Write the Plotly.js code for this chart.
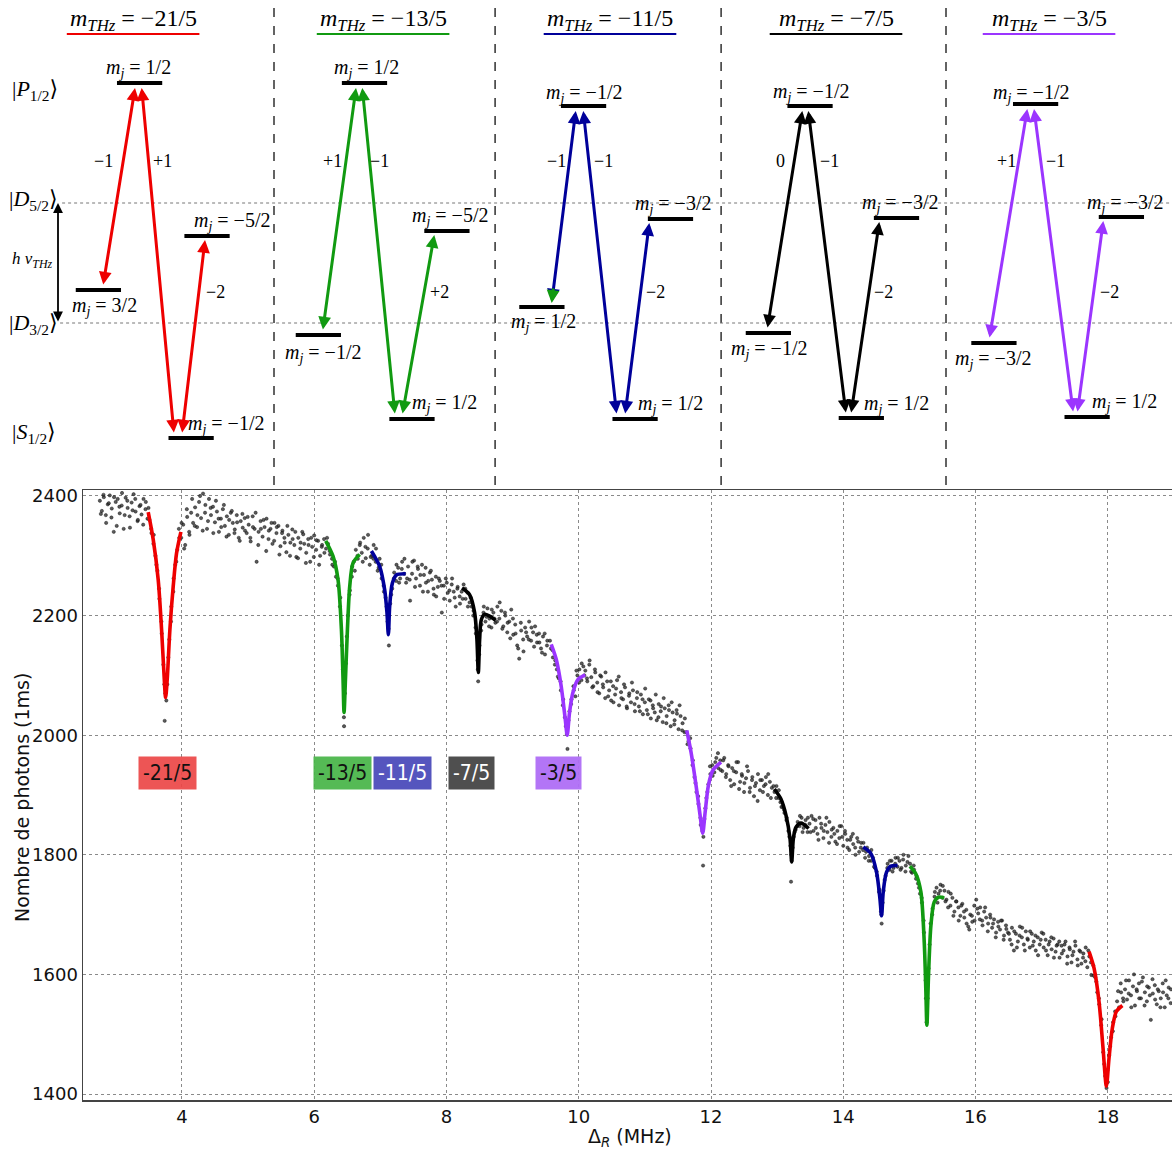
<!DOCTYPE html>
<html>
<head>
<meta charset="utf-8">
<script src="https://cdn.plot.ly/plotly-3.0.1.min.js"></script>
<style>html,body{margin:0;padding:0;background:#fff;}#chart{width:1172px;height:1149px;}</style>
</head>
<body>
<div id="chart"></div>
<script>
// ---------------- DATA: measured scatter, scan 1 (segments) ----------------
const scatXA = [2.76,2.79,2.82,2.85,2.88,2.91,2.94,2.97,3.00,3.03,3.06,3.09,3.12,3.15,3.18,3.21,3.24,3.27,3.30,3.33,3.36,3.39,3.42,3.45,3.48];
const scatYA = [2392,2375,2398,2368,2386,2401,2379,2340,2390,2395,2371,2384,2345,2397,2380,2366,2389,2403,2374,2358,2383,2369,2395,2378,2362];
const scatXR1 = [3.51,3.54,3.57,3.60,3.63,3.66,3.69,3.72,3.75,3.74,3.78,3.81,3.84,3.87,3.90,3.93,3.96];
const scatYR1 = [2360,2338,2320,2300,2275,2228,2190,2118,2070,2024,2085,2160,2215,2240,2285,2310,2330];
const scatXB = [3.99,4.02,4.05,4.08,4.11,4.14,4.17,4.20,4.23,4.26,4.29,4.32,4.35,4.38,4.41,4.44,4.47,4.50,4.53,4.56,4.59,4.62,4.65,4.68,4.71,4.74,4.77,4.80,4.83,4.86,4.89,4.92,4.95,4.98,5.01,5.04,5.07,5.10,5.13,5.16,5.19,5.22,5.25,5.28,5.31,5.34,5.37,5.40,5.43,5.46,5.49,5.52,5.55,5.58,5.61,5.64,5.67,5.70,5.73,5.76,5.79,5.82,5.85,5.88,5.91,5.94,5.97,6.00,6.03,6.06,6.09,6.12,6.15];
const scatYB = [2330,2352,2318,2365,2340,2372,2355,2381,2348,2390,2363,2404,2372,2345,2395,2368,2382,2356,2374,2340,2362,2378,2350,2366,2335,2372,2355,2344,2368,2330,2358,2347,2363,2338,2352,2324,2366,2345,2290,2340,2358,2332,2348,2362,2328,2345,2320,2355,2338,2350,2316,2342,2330,2306,2335,2322,2344,2318,2298,2330,2312,2340,2320,2305,2328,2290,2315,2334,2310,2325,2300,2318,2328];
const scatXG1 = [6.18,6.21,6.24,6.27,6.30,6.33,6.36,6.39,6.42,6.45,6.452,6.48,6.51,6.54,6.57,6.60,6.63,6.66,6.69,6.72,6.75,6.78,6.81,6.84];
const scatYG1 = [2312,2320,2302,2295,2282,2265,2250,2215,2150,2030,2015,2120,2200,2242,2265,2290,2310,2295,2318,2305,2330,2296,2312,2285];
const scatXB1 = [6.87,6.90,6.93,6.96,6.99,7.02,7.05,7.08,7.11,7.13,7.15,7.18,7.21,7.24,7.27,7.30,7.33,7.36,7.39];
const scatYB1 = [2300,2318,2290,2275,2295,2262,2250,2230,2190,2150,2220,2245,2272,2258,2280,2262,2290,2270,2255];
const scatXC = [7.42,7.45,7.48,7.51,7.54,7.57,7.60,7.63,7.66,7.69,7.72,7.75,7.78,7.81,7.84,7.87,7.90,7.93,7.96,7.99,8.02,8.05,8.08,8.11,8.14,8.17,8.20];
const scatYC = [2282,2225,2270,2292,2262,2278,2250,2285,2268,2255,2240,2272,2260,2235,2265,2248,2258,2205,2250,2262,2238,2225,2252,2240,2215,2248,2232];
const scatXK1 = [8.23,8.26,8.29,8.32,8.35,8.38,8.41,8.44,8.47,8.48,8.50,8.53,8.56,8.59,8.62,8.65,8.68,8.71,8.74];
const scatYK1 = [2240,2252,2228,2238,2222,2215,2208,2180,2125,2090,2150,2185,2205,2190,2212,2195,2180,2205,2188];
const scatXD = [8.77,8.80,8.83,8.86,8.89,8.92,8.95,8.98,9.01,9.04,9.07,9.10,9.13,9.16,9.19,9.22,9.25,9.28,9.31,9.34,9.37,9.40,9.43,9.46,9.49,9.52];
const scatYD = [2215,2195,2208,2182,2200,2172,2190,2210,2168,2185,2150,2128,2175,2160,2180,2165,2190,2158,2172,2182,2155,2170,2145,2165,2135,2150];
const scatXP1 = [9.58,9.61,9.64,9.67,9.70,9.73,9.76,9.79,9.82,9.83,9.86,9.89,9.92,9.95,9.98,10.01,10.04,10.07];
const scatYP1 = [2145,2130,2118,2110,2095,2075,2050,2030,2002,1977,2040,2060,2082,2065,2100,2110,2092,2115];
const scatXE = [10.10,10.13,10.16,10.19,10.22,10.25,10.28,10.31,10.34,10.37,10.40,10.43,10.46,10.49,10.52,10.55,10.58,10.61,10.64,10.67,10.70,10.73,10.76,10.79,10.82,10.85,10.88,10.91,10.94,10.97,11.00,11.03,11.06,11.09,11.12,11.15,11.18,11.21,11.24,11.27,11.30,11.33,11.36,11.39,11.42,11.45,11.48,11.51,11.54,11.57,11.60];
const scatYE = [2108,2090,2118,2097,2082,2105,2088,2070,2098,2080,2062,2090,2075,2058,2082,2068,2092,2050,2072,2060,2080,2045,2066,2055,2075,2040,2062,2048,2068,2035,2055,2042,2060,2028,2050,2038,2025,2052,2040,2022,2045,2032,2050,2015,2038,2025,2042,2010,2032,2020,2005];
const scatXP2 = [11.63,11.66,11.69,11.72,11.75,11.78,11.81,11.84,11.87,11.88,11.90,11.93,11.96,11.99,12.02,12.05,12.08,12.11,12.14];
const scatYP2 = [2005,1990,1978,1950,1930,1905,1885,1862,1840,1782,1860,1895,1918,1935,1950,1938,1962,1945,1958];
const scatXF = [12.17,12.20,12.23,12.26,12.29,12.32,12.35,12.38,12.41,12.44,12.47,12.50,12.53,12.56,12.59,12.62,12.65,12.68,12.71,12.74,12.77,12.80,12.83,12.86,12.89,12.92];
const scatYF = [1940,1962,1935,1950,1925,1945,1918,1938,1955,1922,1932,1905,1928,1940,1912,1925,1898,1920,1935,1908,1925,1915,1930,1900,1922,1912];
const scatXK2 = [12.96,12.99,13.02,13.05,13.08,13.11,13.14,13.17,13.20,13.22,13.21,13.25,13.28,13.31,13.34,13.37,13.40,13.43,13.46];
const scatYK2 = [1905,1915,1895,1888,1880,1870,1858,1840,1815,1790,1755,1830,1842,1855,1848,1862,1845,1858,1838];
const scatXG = [13.49,13.52,13.55,13.58,13.61,13.64,13.67,13.70,13.73,13.76,13.79,13.82,13.85,13.88,13.91,13.94,13.97,14.00,14.03,14.06,14.09,14.12,14.15,14.18,14.21,14.24,14.27];
const scatYG = [1852,1865,1840,1858,1835,1862,1845,1828,1850,1838,1855,1830,1845,1822,1840,1828,1848,1815,1835,1825,1808,1830,1818,1812,1828,1805,1820];
const scatXB2 = [14.30,14.33,14.36,14.39,14.42,14.45,14.48,14.51,14.54,14.57,14.58,14.61,14.64,14.67,14.70,14.73,14.76,14.79,14.82,14.85,14.88,14.91,14.94,14.97];
const scatYB2 = [1808,1795,1812,1798,1790,1795,1778,1765,1738,1705,1685,1740,1765,1785,1775,1790,1778,1795,1780,1790,1778,1800,1772,1788];
const scatXG2 = [15.01,15.04,15.07,15.10,15.13,15.16,15.19,15.22,15.25,15.26,15.29,15.32,15.35,15.38,15.41,15.44,15.47,15.50,15.53];
const scatYG2 = [1785,1770,1775,1760,1752,1735,1720,1670,1560,1520,1610,1685,1710,1730,1745,1735,1750,1728,1740];
const scatXH = [15.56,15.59,15.62,15.65,15.68,15.71,15.74,15.77,15.80,15.83,15.86,15.89,15.92,15.95,15.98,16.01,16.04,16.07,16.10,16.13,16.16,16.19,16.22,16.25,16.28,16.31,16.34,16.37,16.40,16.43,16.46,16.49,16.52,16.55,16.58,16.61,16.64,16.67,16.70,16.73,16.76,16.79,16.82,16.85,16.88,16.91,16.94,16.97,17.00,17.03,17.06,17.09,17.12,17.15,17.18,17.21,17.24,17.27,17.30,17.33,17.36,17.39,17.42,17.45,17.48,17.51,17.54,17.57,17.60,17.63,17.66,17.69];
const scatYH = [1725,1738,1715,1728,1705,1722,1712,1698,1718,1695,1708,1680,1700,1688,1715,1725,1702,1712,1690,1705,1695,1685,1700,1678,1692,1670,1688,1675,1690,1665,1682,1670,1658,1678,1640,1668,1655,1680,1662,1650,1672,1658,1645,1668,1655,1640,1662,1650,1670,1645,1658,1632,1655,1642,1660,1638,1650,1628,1648,1640,1655,1630,1645,1620,1638,1648,1625,1640,1618,1635,1622,1612];
const scatXR2 = [17.72,17.75,17.78,17.81,17.84,17.87,17.90,17.93,17.96,17.98,18.00,18.02,18.05,18.08,18.11,18.14,18.17,18.20,18.23];
const scatYR2 = [1630,1599,1615,1595,1570,1550,1515,1470,1430,1410,1420,1465,1495,1520,1538,1555,1545,1570,1560];
const scatXI = [18.26,18.29,18.32,18.35,18.38,18.41,18.44,18.47,18.50,18.53,18.56,18.59,18.62,18.65,18.68,18.71,18.74,18.77,18.80,18.83,18.86,18.89,18.92,18.95];
const scatYI = [1575,1558,1590,1565,1580,1548,1572,1585,1560,1595,1570,1555,1578,1524,1568,1582,1550,1572,1560,1585,1545,1565,1578,1552];

// ---------------- DATA: measured scatter, scan 2 (segments) ----------------
const scan2XA = [2.775,2.815,2.855,2.895,2.935,2.975,3.015,3.055,3.095,3.135,3.175,3.215,3.255,3.295,3.335,3.375,3.415,3.455,3.495,3.535,3.575,3.615,3.655,3.695,3.735,3.765,3.795,3.835,3.875,3.915,3.955];
const scan2YA = [2370,2402,2355,2388,2364,2398,2350,2382,2405,2368,2392,2347,2376,2395,2360,2385,2352,2390,2380,2345,2335,2285,2245,2170,2085,2058,2130,2190,2262,2290,2345];
const scan2XB = [3.995,4.035,4.075,4.115,4.155,4.195,4.235,4.275,4.315,4.355,4.395,4.435,4.475,4.515,4.555,4.595,4.635,4.675,4.715,4.755,4.795,4.835,4.875,4.915,4.955,4.995,5.035,5.075,5.115,5.155,5.195,5.235,5.275,5.315,5.355,5.395,5.435,5.475,5.515,5.555,5.595,5.635,5.675,5.715,5.755,5.795,5.835,5.875,5.915,5.955,5.995,6.035,6.075,6.115,6.155];
const scan2YB = [2355,2312,2378,2335,2395,2350,2368,2400,2342,2385,2358,2380,2338,2392,2362,2348,2385,2332,2360,2375,2338,2356,2325,2370,2342,2365,2330,2348,2372,2318,2345,2360,2308,2342,2355,2325,2348,2302,2338,2322,2350,2300,2328,2340,2296,2322,2336,2288,2318,2330,2298,2326,2285,2315,2305];
const scan2XC = [6.195,6.235,6.275,6.315,6.355,6.395,6.435,6.465,6.495,6.535,6.575,6.615,6.655,6.695,6.735,6.775,6.815,6.855,6.895,6.935,6.975,7.015,7.055,7.095,7.125,7.165,7.205,7.245,7.285,7.325,7.365,7.405];
const scan2YC = [2330,2308,2285,2290,2262,2230,2110,2070,2165,2235,2282,2275,2300,2322,2290,2315,2335,2298,2295,2312,2280,2285,2240,2215,2178,2235,2262,2285,2255,2278,2295,2262];
const scan2XD = [7.445,7.485,7.525,7.565,7.605,7.645,7.685,7.725,7.765,7.805,7.845,7.885,7.925,7.965,8.005,8.045,8.085,8.125,8.165,8.205,8.245,8.285,8.325,8.365,8.405,8.445,8.475,8.495,8.525,8.565,8.605,8.645,8.685,8.725];
const scan2YD = [2260,2290,2248,2282,2268,2240,2280,2258,2275,2245,2232,2262,2250,2228,2255,2242,2262,2230,2245,2220,2228,2245,2215,2230,2200,2170,2110,2135,2175,2215,2198,2182,2210,2195];
const scan2XE = [8.765,8.805,8.845,8.885,8.925,8.965,9.005,9.045,9.085,9.125,9.165,9.205,9.245,9.285,9.325,9.365,9.405,9.445,9.485,9.525,9.565,9.605,9.645,9.685,9.725,9.765,9.805,9.845,9.885,9.925,9.965,10.005,10.045,10.085];
const scan2YE = [2190,2222,2178,2205,2188,2162,2195,2170,2145,2188,2140,2172,2160,2180,2148,2168,2155,2138,2170,2158,2158,2142,2125,2098,2090,2060,2015,2025,2052,2075,2108,2088,2120,2100];
const scan2XF = [10.125,10.165,10.205,10.245,10.285,10.325,10.365,10.405,10.445,10.485,10.525,10.565,10.605,10.645,10.685,10.725,10.765,10.805,10.845,10.885,10.925,10.965,11.005,11.045,11.085,11.125,11.165,11.205,11.245,11.285,11.325,11.365,11.405,11.445,11.485,11.525,11.565,11.605];
const scan2YF = [2095,2125,2080,2110,2072,2100,2085,2105,2065,2090,2055,2078,2098,2062,2085,2048,2070,2088,2052,2072,2040,2060,2078,2035,2058,2045,2068,2030,2048,2062,2020,2042,2055,2018,2036,2050,2008,2028];
const scan2XG = [11.645,11.685,11.725,11.765,11.805,11.845,11.885,11.915,11.945,11.985,12.025,12.065,12.105,12.145,12.185,12.225,12.265,12.305,12.345,12.385,12.425,12.465,12.505,12.545,12.585,12.625,12.665,12.705,12.745,12.785,12.825,12.865,12.905,12.945];
const scan2YG = [1985,1995,1958,1920,1898,1850,1830,1878,1905,1948,1932,1955,1970,1942,1958,1930,1948,1915,1940,1955,1910,1935,1920,1948,1905,1930,1915,1890,1925,1905,1918,1935,1895,1915];
const scan2XH = [12.985,13.025,13.065,13.105,13.145,13.185,13.215,13.235,13.265,13.305,13.345,13.385,13.425,13.465,13.505,13.545,13.585,13.625,13.665,13.705,13.745,13.785,13.825,13.865,13.905,13.945,13.985,14.025,14.065,14.105,14.145,14.185,14.225,14.265];
const scan2YH = [1895,1908,1880,1875,1862,1830,1800,1812,1838,1848,1865,1838,1850,1862,1838,1860,1845,1825,1852,1840,1862,1820,1842,1835,1818,1848,1830,1840,1812,1825,1835,1800,1822,1812];
const scan2XI = [14.305,14.345,14.385,14.425,14.465,14.505,14.545,14.575,14.595,14.625,14.665,14.705,14.745,14.785,14.825,14.865,14.905,14.945,14.985,15.025,15.065,15.105,15.145,15.185,15.215,15.245,15.275,15.305,15.345,15.385,15.425,15.465,15.505,15.545];
const scan2YI = [1820,1805,1790,1808,1780,1772,1742,1700,1720,1758,1778,1790,1772,1785,1795,1775,1792,1782,1798,1772,1782,1765,1745,1728,1690,1590,1560,1650,1700,1738,1720,1740,1748,1722];
const scan2XJ = [15.585,15.625,15.665,15.705,15.745,15.785,15.825,15.865,15.905,15.945,15.985,16.025,16.065,16.105,16.145,16.185,16.225,16.265,16.305,16.345,16.385,16.425,16.465,16.505,16.545,16.585,16.625,16.665,16.705,16.745,16.785,16.825,16.865,16.905,16.945,16.985,17.025,17.065,17.105,17.145,17.185,17.225,17.265,17.305,17.345,17.385,17.425,17.465,17.505,17.545,17.585,17.625,17.665,17.705];
const scan2YJ = [1712,1735,1698,1722,1690,1715,1705,1685,1675,1698,1690,1710,1692,1682,1712,1672,1695,1685,1662,1680,1690,1658,1676,1668,1650,1672,1645,1665,1678,1640,1660,1672,1648,1665,1632,1658,1668,1640,1650,1662,1628,1648,1655,1635,1650,1618,1642,1632,1655,1615,1638,1628,1645,1640];
const scan2XK = [17.745,17.785,17.825,17.865,17.905,17.945,17.975,17.995,18.035,18.075,18.115,18.155,18.195,18.235,18.275,18.315,18.355,18.395,18.435,18.475,18.515,18.555,18.595,18.635,18.675,18.715,18.755,18.795,18.835,18.875,18.915,18.955];
const scan2YK = [1620,1598,1588,1560,1525,1450,1420,1440,1480,1505,1530,1572,1585,1555,1590,1568,1545,1600,1575,1560,1588,1548,1580,1565,1592,1558,1575,1545,1570,1590,1560,1575];

// ---------------- DATA: fitted resonance curves ----------------
const fitRed1X = [3.491,3.567,3.642,3.693,3.728,3.754,3.778,3.819,3.869,3.919,3.985];
const fitRed1Y = [2373,2327,2260,2177,2105,2063,2093,2177,2249,2304,2340];
const fitGreen1X = [6.175,6.286,6.361,6.412,6.437,6.452,6.473,6.503,6.538,6.588,6.689];
const fitGreen1Y = [2325,2299,2260,2177,2093,2038,2093,2177,2249,2288,2302];
const fitBlue1X = [6.865,6.991,7.066,7.101,7.122,7.142,7.182,7.243,7.384];
const fitBlue1Y = [2308,2282,2243,2205,2168,2216,2254,2268,2270];
const fitBlack1X = [8.235,8.350,8.426,8.461,8.482,8.502,8.527,8.577,8.653,8.743];
const fitBlack1Y = [2246,2235,2205,2160,2105,2160,2193,2202,2199,2192];
const fitPurple1X = [9.584,9.660,9.735,9.796,9.826,9.861,9.911,9.987,10.098];
const fitPurple1Y = [2152,2127,2082,2027,2000,2038,2071,2093,2101];
const fitPurple2X = [11.633,11.699,11.774,11.835,11.875,11.911,11.961,12.026,12.152];
const fitPurple2Y = [2008,1971,1916,1866,1836,1871,1916,1941,1955];
const fitBlack2X = [12.958,13.059,13.134,13.195,13.220,13.245,13.285,13.361,13.476];
const fitBlack2Y = [1910,1893,1866,1827,1788,1827,1846,1853,1844];
const fitBlue2X = [14.302,14.418,14.503,14.554,14.579,14.604,14.654,14.720,14.821];
const fitBlue2Y = [1813,1802,1771,1727,1698,1738,1771,1781,1782];
const fitGreen2X = [15.007,15.098,15.173,15.224,15.249,15.264,15.289,15.325,15.375,15.440,15.526];
const fitGreen2Y = [1781,1768,1738,1654,1571,1515,1599,1682,1721,1729,1728];
const fitRed2X = [17.716,17.792,17.867,17.927,17.978,18.018,18.068,18.129,18.220];
const fitRed2Y = [1638,1610,1554,1477,1413,1460,1510,1538,1548];

// ---------------- DATA: resonance tags ----------------
const tagText = ['-21/5','-13/5','-11/5','-7/5','-3/5'];
const tagX = [3.78, 6.43, 7.33, 8.38, 9.69];
const tagY = 1936;

// ---------------- DATA: level diagrams ----------------
const mTHz = ['−21/5','−13/5','−11/5','−7/5','−3/5'];
const levP  = [404, 404, 381, 381, 383];   // P1/2 sublevel energy (diagram units)
const levD5 = [251, 256, 268, 269, 270];   // D5/2 sublevel
const levD3 = [197, 152, 180, 154, 144];   // D3/2 sublevel
const levS  = [49, 68, 68, 69, 70];        // S1/2 sublevel
const stateE = {P: 397, D5: 284, D3: 164, S: 54};
const mjP  = ['1/2','1/2','−1/2','−1/2','−1/2'];
const mjD5 = ['−5/2','−5/2','−3/2','−3/2','−3/2'];
const mjD3 = ['3/2','−1/2','1/2','−1/2','−3/2'];
const mjS  = ['−1/2','1/2','1/2','1/2','1/2'];
const q1 = ['−1','+1','−1','0','+1'];
const q2 = ['+1','−1','−1','−1','−1'];
const q3 = ['−2','+2','−2','−2','−2'];

// ---------------- STYLE / POSITIONS ----------------
const COLORS = ['#ee0000','#119a11','#00009a','#000000','#9b35ff'];
const TAGBG = ['rgba(236,70,70,0.92)','rgba(70,180,70,0.92)','rgba(70,70,185,0.92)','rgba(70,70,70,0.95)','rgba(175,110,245,0.95)'];
const TAGFG = ['#111','#111','#fff','#fff','#111'];
const cP  = [0.400, 0.404, 0.382, 0.393, 0.400];
const cD5 = [0.701, 0.772, 0.770, 0.779, 0.783];
const cD3 = [0.216, 0.198, 0.196, 0.207, 0.214];
const cS  = [0.630, 0.616, 0.612, 0.622, 0.630];
const HW = 0.101;
const a1Top = [0.3795,0.3661,0.3469,0.3585,0.3629], a1Bot = [0.2366,0.2174,0.2397,0.2022,0.1933];
const a2Top = [0.4094,0.3942,0.3808,0.3853,0.3929], a2Bot = [0.5536,0.5402,0.5299,0.5536,0.5683];
const a3Bot = [0.5893,0.5728,0.5670,0.5759,0.5862], a3Top = [0.6920,0.7156,0.6754,0.7022,0.7022];
const q1X = [0.241,0.263,0.263,0.263,0.268], q2X = [0.504,0.473,0.469,0.482,0.487], q3X = [0.737,0.741,0.705,0.723,0.732];
const titleX = [0.371,0.487,0.500,0.509,0.460];
const lblP = [[0.393,419],[0.415,419],[0.384,394],[0.397,395],[0.379,394]];
const lblD5 = [[0.8125,266],[0.786,271],[0.781,283],[0.795,284],[0.799,284]];
const lblD3 = [[0.2455,181],[0.219,134],[0.201,165],[0.210,138],[0.210,128]];
const lblS = [[0.786,63],[0.763,84],[0.768,83],[0.781,83],[0.795,85]];
const divX = [1.0, 1.987, 2.996, 4.0];

const SERIF = 'Liberation Serif, DejaVu Serif, serif';
const SANS = 'DejaVu Sans, sans-serif';

const traces = [];
const scat = [[scatXA,scatYA],[scatXR1,scatYR1],[scatXB,scatYB],[scatXG1,scatYG1],[scatXB1,scatYB1],[scatXC,scatYC],[scatXK1,scatYK1],[scatXD,scatYD],[scatXP1,scatYP1],[scatXE,scatYE],[scatXP2,scatYP2],[scatXF,scatYF],[scatXK2,scatYK2],[scatXG,scatYG],[scatXB2,scatYB2],[scatXG2,scatYG2],[scatXH,scatYH],[scatXR2,scatYR2],[scatXI,scatYI],
  [scan2XA,scan2YA],[scan2XB,scan2YB],[scan2XC,scan2YC],[scan2XD,scan2YD],[scan2XE,scan2YE],[scan2XF,scan2YF],[scan2XG,scan2YG],[scan2XH,scan2YH],[scan2XI,scan2YI],[scan2XJ,scan2YJ],[scan2XK,scan2YK]];
let sx = [], sy = [];
scat.forEach(s => { sx = sx.concat(s[0]); sy = sy.concat(s[1]); });
traces.push({type:'scatter', mode:'markers', x:sx, y:sy, xaxis:'x', yaxis:'y',
  marker:{size:3.3, color:'rgba(50,50,50,0.8)', line:{width:0.4,color:'#000'}}, hoverinfo:'skip', showlegend:false});

const fits = [[fitRed1X,fitRed1Y,0],[fitGreen1X,fitGreen1Y,1],[fitBlue1X,fitBlue1Y,2],[fitBlack1X,fitBlack1Y,3],[fitPurple1X,fitPurple1Y,4],
  [fitPurple2X,fitPurple2Y,4],[fitBlack2X,fitBlack2Y,3],[fitBlue2X,fitBlue2Y,2],[fitGreen2X,fitGreen2Y,1],[fitRed2X,fitRed2Y,0]];
fits.forEach(f => traces.push({type:'scatter', mode:'lines', x:f[0], y:f[1], xaxis:'x', yaxis:'y',
  line:{color:COLORS[f[2]], width:3.6, shape:'spline', smoothing:0.8}, hoverinfo:'skip', showlegend:false}));

// level bars
const bx = [], by = [];
for (let k = 0; k < 5; k++) {
  [[cP[k],levP[k]],[cD5[k],levD5[k]],[cD3[k],levD3[k]],[cS[k],levS[k]]].forEach(([c,e]) => {
    bx.push(k+c-HW, k+c+HW, null); by.push(e, e, null);
  });
}
traces.push({type:'scatter', mode:'lines', x:bx, y:by, xaxis:'x2', yaxis:'y2', line:{color:'#000', width:4}, hoverinfo:'skip', showlegend:false});

const shapes = [], ann = [];
divX.forEach(d => shapes.push({type:'line', xref:'x2', yref:'y2', x0:d, x1:d, y0:2, y1:484, line:{color:'#222', width:1.4, dash:'dash'}}));
shapes.push({type:'line', xref:'x2', yref:'y2', x0:0.054, x1:5.01, y0:stateE.D5, y1:stateE.D5, line:{color:'#777', width:1, dash:'dot'}});
shapes.push({type:'line', xref:'x2', yref:'y2', x0:0.045, x1:5.01, y0:stateE.D3, y1:stateE.D3, line:{color:'#777', width:1, dash:'dot'}});

const arrow = (xh, yh, xt, yt, col, w, sz, both) => ({x:xh, y:yh, ax:xt, ay:yt, xref:'x2', yref:'y2', axref:'x2', ayref:'y2', text:'', showarrow:true,
  arrowhead:2, startarrowhead:2, arrowside: both === false ? 'end' : 'end+start', arrowwidth:w, arrowsize:sz, startarrowsize:sz, arrowcolor:col, standoff:0, startstandoff:0});
const txt = (x, y, t, size, opts) => Object.assign({x:x, y:y, xref:'x2', yref:'y2', text:t, showarrow:false, font:{family:SERIF, size:size, color:'#000'}}, opts||{});
const mj = v => '<i>m</i><sub><i>j</i></sub> = ' + v;

for (let k = 0; k < 5; k++) {
  const col = COLORS[k];
  ann.push(txt(k+titleX[k], 467, '<i>m</i><sub><i>THz</i></sub> = ' + mTHz[k], 24));
  shapes.push({type:'line', xref:'x2', yref:'y2', x0:k+titleX[k]-0.296, x1:k+titleX[k]+0.296, y0:453, y1:453, line:{color:col, width:2}});
  ann.push(arrow(k+a1Top[k], levP[k]-5, k+a1Bot[k], levD3[k]+4, col, 3, 0.85));
  ann.push(arrow(k+a2Top[k], levP[k]-5, k+a2Bot[k], levS[k]+4, col, 3, 0.85));
  ann.push(arrow(k+a3Top[k], levD5[k]-4, k+a3Bot[k], levS[k]+4, col, 3, 0.85));
  ann.push(txt(k+q1X[k], 326, q1[k], 18));
  ann.push(txt(k+q2X[k], 326, q2[k], 18));
  ann.push(txt(k+q3X[k], 195, q3[k], 18));
  ann.push(txt(k+lblP[k][0], lblP[k][1], mj(mjP[k]), 20));
  ann.push(txt(k+lblD5[k][0], lblD5[k][1], mj(mjD5[k]), 20));
  ann.push(txt(k+lblD3[k][0], lblD3[k][1], mj(mjD3[k]), 20));
  ann.push(txt(k+lblS[k][0], lblS[k][1], mj(mjS[k]), 20));
}
// the green-tipped arrowhead drawn in the -11/5 panel
ann.push(arrow(2+a1Bot[2], levD3[2]+4, 2+a1Bot[2]+0.008, levD3[2]+20, COLORS[1], 3, 0.85, false));
// state labels
ann.push(txt(-0.066, stateE.P, '|<i>P</i><sub>1/2</sub>⟩', 22));
ann.push(txt(-0.073, stateE.D5+3, '|<i>D</i><sub>5/2</sub>⟩', 22));
ann.push(txt(-0.073, stateE.D3-1, '|<i>D</i><sub>3/2</sub>⟩', 22));
ann.push(txt(-0.073, stateE.S, '|<i>S</i><sub>1/2</sub>⟩', 22));
ann.push(txt(-0.082, 227, '<i>h ν</i><sub><i>THz</i></sub>', 17));
ann.push(arrow(0.0357, stateE.D5, 0.0357, stateE.D3, '#000', 1.8, 1.1));

// resonance tags
for (let i = 0; i < 5; i++) {
  ann.push({x:tagX[i], y:tagY, xref:'x', yref:'y', text:tagText[i], showarrow:false, bgcolor:TAGBG[i], borderpad:4,
    font:{family:'Liberation Sans Narrow, DejaVu Sans Condensed, sans-serif', size:21, color:TAGFG[i]}});
}
// axis titles
ann.push({x:22/1172, y:1-798/1149, xref:'paper', yref:'paper', xanchor:'center', yanchor:'middle', text:'Nombre de photons (1ms)', textangle:-90, showarrow:false, font:{family:SANS, size:19, color:'#111'}});
ann.push({x:630/1172, y:1-1137/1149, xref:'paper', yref:'paper', xanchor:'center', yanchor:'middle', text:'Δ<sub><i>R</i></sub> (MHz)', showarrow:false, font:{family:SANS, size:19, color:'#111'}});

const tickfont = {family:SANS, size:18, color:'#111'};
const layout = {
  width:1172, height:1149, margin:{l:0, r:0, t:0, b:0}, paper_bgcolor:'#fff', plot_bgcolor:'#fff', showlegend:false,
  xaxis:{domain:[83/1172, 1], range:[2.505, 18.97], tickvals:[4,6,8,10,12,14,16,18], ticks:'', showgrid:true, gridcolor:'#8a8a8a', griddash:'dot', gridwidth:1,
    showline:true, linecolor:'#444', linewidth:1.5, mirror:true, zeroline:false, tickfont:tickfont, anchor:'y'},
  yaxis:{domain:[1-1100/1149, 1-490/1149], range:[1390, 2410], tickvals:[1400,1600,1800,2000,2200,2400], ticks:'', showgrid:true, gridcolor:'#8a8a8a', griddash:'dot', gridwidth:1,
    showline:true, linecolor:'#444', linewidth:1.5, mirror:true, zeroline:false, tickfont:tickfont, anchor:'x'},
  xaxis2:{domain:[0,1], range:[-50/224, 1122/224], visible:false, anchor:'y2', fixedrange:true},
  yaxis2:{domain:[1-487/1149, 1], range:[0, 487], visible:false, anchor:'x2', fixedrange:true},
  shapes:shapes, annotations:ann
};
Plotly.newPlot('chart', traces, layout, {displayModeBar:false, staticPlot:true});
</script>
</body>
</html>
